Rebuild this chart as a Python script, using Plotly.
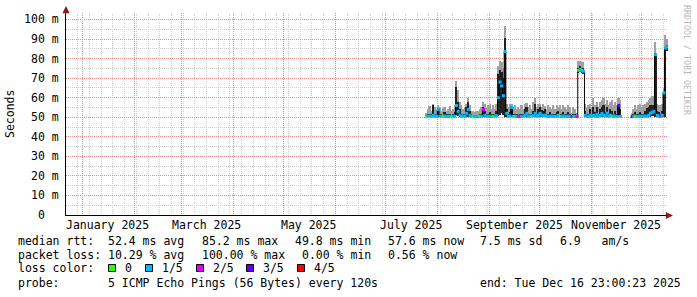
import plotly.graph_objects as go
import pandas as pd

# ---------------- data (milliseconds, one value per day from 2025-07-25) ----------------
start_day = "2025-07-25"
median_ms = [
    50.3, 50.5, 50.6, 50.4, 51.0, 50.5, 50.6, 54.0, 50.5, 50.4,
    50.5, 50.6, 50.4, 50.5, 50.5, 50.3, 50.5, 50.5, 56.0, 53.0,
    51.0, 50.5, 50.6, 50.5, 52.0, 54.0, 51.0, 50.4, 50.3, 50.3,
    50.4, 50.3, 50.5, 50.5, 54.0, 51.0, 50.5, 50.4, 50.5, 50.4,
    50.5, 50.6, 50.8, 60.0, 68.0, 66.0, 61.0, 83.6, 52.0, 50.5,
    50.6, 55.0, 50.5, 50.4, 50.5, 50.3, 50.4, 50.5, 50.4, 51.0,
    52.0, 50.5, 50.6, 50.5, 50.8, 52.0, 50.5, 51.0, 52.0, 51.0,
    50.8, 51.0, 50.5, 50.4, 50.5, 50.6, 50.4, 50.5, 50.5, 51.0,
    50.5, 50.4, 50.6, 50.5, 50.4, 50.5, 50.5, 50.3, 50.5, 50.4,
    50.3, 74.0, 74.5, 74.0, 73.5, 51.0, 50.5, 50.4, 51.0, 50.5,
    51.0, 50.5, 51.5, 50.5, 51.0, 52.0, 51.0, 50.6, 52.0, 50.5,
    51.0, 50.5, 50.6, 50.5, 50.4, 56.0, 50.5, None, None, None,
    None, None, None, 50.3, 50.5, 50.5, 50.4, 50.5, 50.5, 50.4,
    50.6, 50.5, 50.5, 51.0, 52.0, 52.5, 53.0, 82.0, 51.0, 50.5,
    50.5, 51.0, 62.5, 85.4, 86.0,
]
inner_hi_ms = [
    51.2, 51.5, 51.8, 51.4, 56, 51.6, 51.5, 54.5, 51.8, 51.4,
    51.3, 52.5, 51.4, 51.5, 51.8, 51.2, 51.5, 52.6, 65.7, 58,
    54, 51.8, 51.6, 51.4, 55, 58, 53, 51.4, 51.2, 51.2,
    51.3, 51.2, 51.5, 51.6, 55, 53, 51.6, 51.4, 52.6, 51.4,
    51.5, 51.7, 53, 72, 74, 73, 70, 90.5, 54, 51.7,
    52.5, 55.5, 51.6, 51.4, 51.5, 51.3, 51.4, 51.6, 51.4, 54,
    55, 51.6, 51.7, 51.5, 53, 57, 51.6, 54, 55, 53.5,
    53, 54, 51.6, 51.4, 52.5, 51.7, 51.4, 51.6, 52.8, 53,
    51.6, 51.4, 52.5, 51.6, 51.4, 52.6, 51.6, 51.1, 51.6, 51.4,
    51.1, 75, 76, 75, 75, 53, 51.6, 51.4, 54, 51.6,
    55, 52.5, 55, 51.6, 54, 55, 56, 52.5, 55, 51.6,
    54, 53, 51.7, 53, 51.4, 56.5, 54, None, None, None,
    None, None, None, 51.2, 51.6, 52.5, 51.4, 51.6, 52.8, 51.5,
    51.8, 53, 54.5, 55, 56, 56.4, 56.4, 83, 53, 52.5,
    51.6, 53, 63, 86, 87,
]
max_ms = [
    52, 54, 55.5, 53, 57, 55, 53.5, 56, 55, 53,
    54.5, 55, 53, 54, 55.5, 53, 54, 56, 68.6, 64,
    58, 56, 54, 55, 57, 60, 56, 53, 53, 52.5,
    53, 53, 54, 55, 58, 57, 54.5, 56, 57, 54,
    56, 54, 57, 76, 79, 78, 75, 96.7, 57, 55,
    57, 57, 55, 56.5, 54, 55, 54, 56, 54, 57,
    57.5, 55, 56, 54, 58, 60, 55, 57, 57, 55,
    57, 55.5, 54, 56, 55, 54, 56, 54, 56, 55,
    56, 54, 56, 55, 54, 56, 55, 52, 55, 54,
    52, 79, 79, 78, 78, 57, 55, 56.5, 57, 55,
    60, 56, 58, 55, 58, 59, 60, 57, 59, 56,
    58, 59, 56, 58, 56, 60, 59, None, None, None,
    None, None, None, 52, 54, 56, 54, 56, 57, 55,
    56.5, 57, 58, 59, 60, 61, 61, 88.7, 57, 56,
    56, 57, 65, 92, 90,
]
low_ms = [
    50.0, 50.1, 50.0, 49.9, 50.0, 50.1, 50.0, 50.2, 50.0, 49.9,
    50.0, 50.1, 50.0, 50.0, 50.1, 49.9, 50.0, 50.0, 51.0, 50.5,
    50.1, 50.0, 50.1, 50.0, 50.2, 50.3, 50.1, 50.0, 49.9, 49.9,
    50.0, 49.9, 50.0, 50.1, 50.2, 50.1, 50.0, 50.0, 50.1, 50.0,
    50.0, 50.1, 50.2, 50.5, 51.0, 52.0, 51.0, 50.0, 50.3, 50.1,
    50.1, 50.3, 50.0, 50.0, 50.1, 49.9, 50.0, 50.0, 50.0, 50.2,
    50.3, 50.0, 50.1, 50.0, 50.2, 50.3, 50.0, 50.2, 50.3, 50.2,
    50.1, 50.2, 50.0, 50.0, 50.1, 50.1, 50.0, 50.0, 50.1, 50.2,
    50.0, 50.0, 50.1, 50.0, 50.0, 50.1, 50.0, 49.9, 50.0, 50.0,
    49.9, 72.5, 73.0, 72.5, 72.0, 50.2, 50.0, 50.0, 50.2, 50.0,
    50.2, 50.0, 50.3, 50.0, 50.2, 50.3, 50.2, 50.1, 50.3, 50.0,
    50.2, 50.0, 50.1, 50.0, 50.0, 50.5, 50.0, None, None, None,
    None, None, None, 49.9, 50.0, 50.1, 50.0, 50.0, 50.1, 50.0,
    50.1, 50.0, 50.1, 50.2, 50.3, 50.4, 50.5, 50.0, 50.2, 50.0,
    50.0, 50.2, 50.0, 50.0, 84.0,
]
loss_idx = [
    0, 1, 1, 1, 1, 1, 1, 1, 1, 1,
    0, 1, 1, 1, 1, 0, 1, 1, 1, 1,
    1, 1, 1, 1, 1, 1, 1, 1, 0, 1,
    1, 1, 0, 1, 2, 1, 1, 1, 1, 1,
    0, 1, 1, 1, 1, 1, 1, 1, 1, 1,
    1, 1, 1, 0, 1, 2, 2, 1, 1, 1,
    1, 1, 1, 0, 1, 1, 1, 1, 1, 1,
    1, 1, 1, 1, 1, 1, 1, 1, 1, 1,
    0, 1, 1, 1, 1, 1, 1, 4, 1, 1,
    2, 0, 1, 0, 1, 1, 1, 1, 1, 1,
    1, 1, 1, 1, 1, 1, 1, 1, 1, 1,
    1, 0, 1, 1, 1, 3, 1, None, None, None,
    None, None, None, 3, 1, 0, 1, 1, 1, 1,
    1, 1, 1, 1, 1, 1, 1, 1, 1, 1,
    2, 1, 1, 1, 1,
]

loss_colors = ["#26ff00", "#00b8ff", "#dd00ff", "#5e00ff", "#ff0000"]
loss_labels = ["0", "1/5", "2/5", "3/5", "4/5"]

y_tick_vals = [0, 10, 20, 30, 40, 50, 60, 70, 80, 90, 100]
y_tick_text = ["0", "10 m", "20 m", "30 m", "40 m", "50 m", "60 m", "70 m", "80 m", "90 m", "100 m"]

x_label_dates = ["2025-01-16", "2025-03-16", "2025-05-16", "2025-07-16", "2025-09-16", "2025-11-16"]
x_label_text = ["January 2025", "March 2025", "May 2025", "July 2025", "September 2025", "November 2025"]
month_grid = ["2025-01-01", "2025-02-01", "2025-03-01", "2025-04-01", "2025-05-01", "2025-06-01",
              "2025-07-01", "2025-08-01", "2025-09-01", "2025-10-01", "2025-11-01", "2025-12-01"]

range_start = "2024-12-21 23:00:23"
range_end = "2025-12-16 23:00:23"

legend_lines = [
    [(16, "median rtt:  52.4 ms avg"), (200, "85.2 ms max"), (293, "49.8 ms min"),
     (386, "57.6 ms now"), (478, "7.5 ms sd"), (558, "6.9   am/s")],
    [(16, "packet loss: 10.29 % avg"), (200, "100.00 % max"), (300, "0.00 % min"), (386, "0.56 % now")],
    [(16, "loss color:")],
    [(16, "probe:       5 ICMP Echo Pings (56 Bytes) every 120s"), (478, "end: Tue Dec 16 23:00:23 2025")],
]

# ---------------- figure ----------------
days = pd.date_range(start_day, periods=len(median_ms), freq="D")
day_mid = days + pd.Timedelta(hours=12)
DAY_MS = 86400000
FONT = "DejaVu Sans Mono"
FS = 11.5
MAJ_GRID = "#e68a8a"
MIN_GRID = "#d0d0d0"

W, H = 697, 297
L, R, T, B = 66, 29, 13, 82
PW, PH = W - L - R, H - T - B


def fx(px):
    return (px - L) / PW


def fy(py):
    return (H - B - py) / PH


def nb(s):
    return s.replace(" ", "\u00a0")


def ylab(t):
    # RRDtool pads the unit-less "0" label as if it carried the " m" suffix
    if " " not in t:
        return t + "<span style='color:rgba(0,0,0,0)'>\u00a0m</span>"
    return nb(t)


def span(top, bottom):
    return [None if (a is None or b is None) else a - b for a, b in zip(top, bottom)]


fig = go.Figure()

# outer smoke (min..max)
fig.add_trace(go.Bar(x=days, y=span(max_ms, low_ms), base=low_ms, width=DAY_MS, offset=0,
                     marker=dict(color="#a0a0a0", line=dict(width=0)), hoverinfo="skip"))
# inner smoke
fig.add_trace(go.Bar(x=days, y=span(inner_hi_ms, low_ms), base=low_ms, width=DAY_MS, offset=0,
                     marker=dict(color="#222222", line=dict(width=0)), hoverinfo="skip"))
# median black step line
fig.add_trace(go.Scatter(x=days, y=median_ms, mode="lines", line=dict(color="#000000", width=1, shape="hv"),
                         hoverinfo="skip", connectgaps=False))
# median loss-coloured band (drawn on top of the black line)
band_col = [loss_colors[i] if i is not None else "#ffffff" for i in loss_idx]
fig.add_trace(go.Scatter(x=day_mid, y=median_ms, mode="markers",
                         marker=dict(symbol="square", size=3, color=band_col, line=dict(width=0)),
                         hoverinfo="skip"))

annotations = []
for d, t in zip(x_label_dates, x_label_text):
    annotations.append(dict(x=d, y=fy(225), xref="x", yref="paper", text=t, showarrow=False,
                            xanchor="center", yanchor="middle", font=dict(family=FONT, size=FS, color="#000")))

line_y = [241, 254.5, 268, 283]
for ly, items in zip(line_y, legend_lines):
    for px, t in items:
        annotations.append(dict(x=fx(px), y=fy(ly), xref="paper", yref="paper", text=nb(t), showarrow=False,
                                xanchor="left", yanchor="middle", font=dict(family=FONT, size=FS, color="#000")))

box_x = [108, 145, 196, 246, 297]
shapes = []
for bx, lab, col in zip(box_x, loss_labels, loss_colors):
    shapes.append(dict(type="rect", xref="paper", yref="paper", x0=fx(bx + 0.5), x1=fx(bx + 7.5),
                       y0=fy(271.5), y1=fy(264.5), fillcolor=col, line=dict(color="#000", width=1)))
    annotations.append(dict(x=fx(bx + 15), y=fy(268), xref="paper", yref="paper", text=lab, showarrow=False,
                            xanchor="left", yanchor="middle", font=dict(family=FONT, size=FS, color="#000")))

annotations.append(dict(x=fx(10), y=fy(114), xref="paper", yref="paper", text="Seconds", showarrow=False,
                        textangle=-90, xanchor="center", yanchor="middle",
                        font=dict(family=FONT, size=FS, color="#000")))
annotations.append(dict(x=fx(687), y=fy(60), xref="paper", yref="paper", text=nb("RRDTOOL / TOBI OETIKER"),
                        showarrow=False, textangle=90, xanchor="center", yanchor="middle",
                        font=dict(family=FONT, size=8.3, color="#b8b8b8")))
# axis arrows
annotations.append(dict(x=fx(673), y=fy(215.5), xref="paper", yref="paper", text="", showarrow=True,
                        ax=-8, ay=0, arrowhead=2, arrowsize=1.2, arrowwidth=1.2, arrowcolor="#8b1a1a"))
annotations.append(dict(x=fx(66), y=fy(6), xref="paper", yref="paper", text="", showarrow=True,
                        ax=0, ay=8, arrowhead=2, arrowsize=1.2, arrowwidth=1.2, arrowcolor="#8b1a1a"))

fig.update_layout(
    width=W, height=H, margin=dict(l=L, r=R, t=T, b=B, pad=0),
    paper_bgcolor="#ffffff", plot_bgcolor="#ffffff",
    showlegend=False, barmode="overlay", bargap=0,
    annotations=annotations, shapes=shapes,
    xaxis=dict(
        type="date", range=[range_start, range_end], tickmode="array", tickvals=month_grid,
        showticklabels=False, ticks="", showgrid=True, gridcolor=MAJ_GRID,
        griddash="1px,1px", gridwidth=1, zeroline=False,
        showline=True, linecolor="#000", linewidth=1,
        minor=dict(tickmode="linear", dtick=7 * DAY_MS, tick0="2024-12-29", showgrid=True,
                   gridcolor=MIN_GRID, griddash="1px,1px", gridwidth=1),
    ),
    yaxis=dict(
        range=[0, 103.3], tickmode="array", tickvals=y_tick_vals, ticktext=[ylab(t) for t in y_tick_text],
        ticks="", ticklabelstandoff=4,
        tickfont=dict(family=FONT, size=FS, color="#000"),
        showgrid=True, gridcolor=MAJ_GRID, griddash="1px,1px", gridwidth=1,
        zeroline=False, showline=True, linecolor="#000", linewidth=1,
        minor=dict(tickmode="linear", dtick=5, tick0=0, showgrid=True, gridcolor=MIN_GRID,
                   griddash="1px,1px", gridwidth=1),
    ),
)

fig.write_html("out.html")
